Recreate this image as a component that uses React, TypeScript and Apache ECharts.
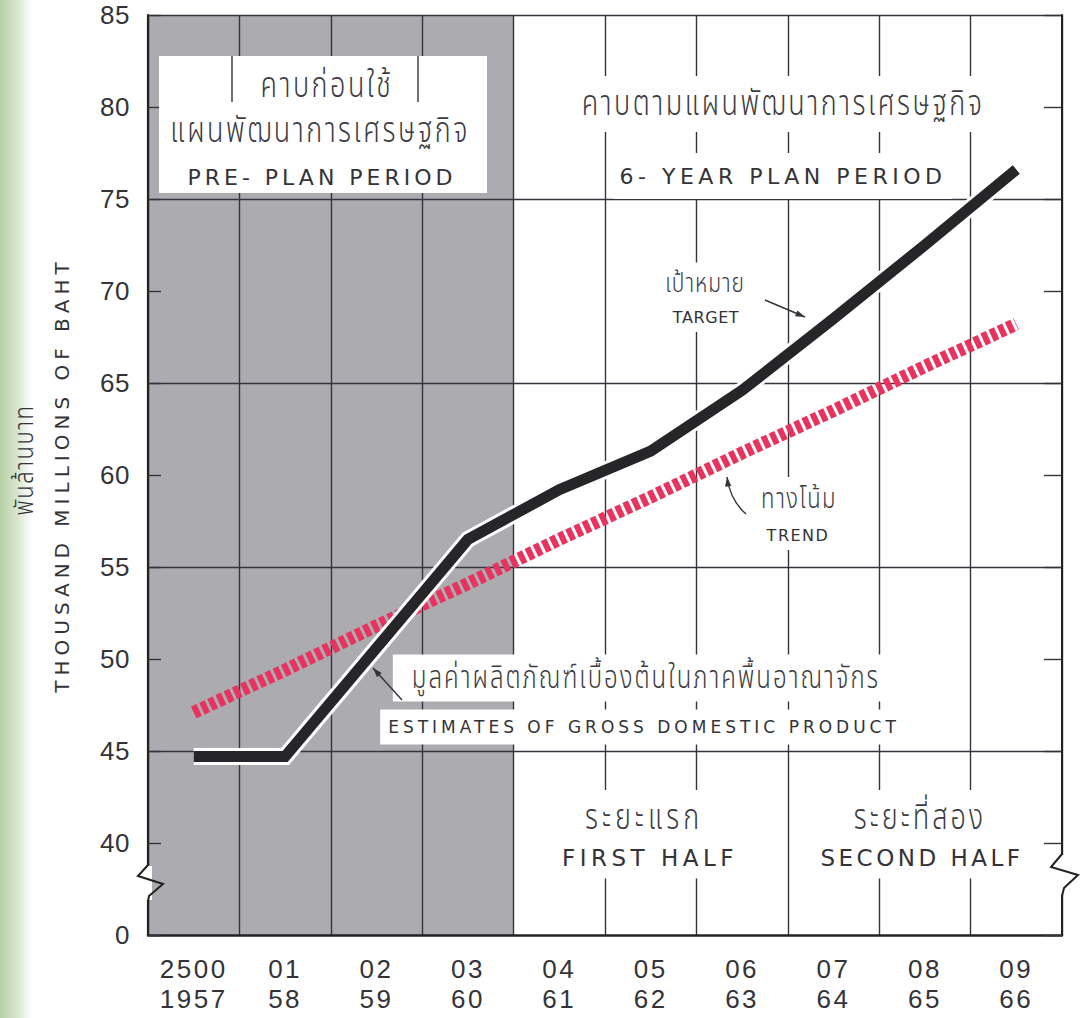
import React, { useEffect, useRef } from "react";
import * as echarts from "echarts";

// ---------- data ----------
const yearLabels = ["2500\n1957", "01\n58", "02\n59", "03\n60", "04\n61", "05\n62", "06\n63", "07\n64", "08\n65", "09\n66"];
const targetGdp = [44.7, 44.7, 50.6, 56.5, 59.2, 61.3, 64.6, 68.5, 72.5, 76.6];
const trendGdp = [47.1, 49.4, 51.8, 54.1, 56.5, 58.8, 61.2, 63.5, 65.9, 68.2];
const majorGridValues = [45, 55, 65, 75, 85];
const yMin = 35; // shown as "0" (broken axis)
const yMax = 85;
const yStep = 5;
const prePlanBand = [0, 4]; // band boundaries of the pre-plan period

// ---------- fonts ----------
const LATIN = "'DejaVu Sans'";
const DIGITS = "'Liberation Sans', Arimo";
const THAI = "'Noto Sans Thai', 'Noto Sans Thai Looped', 'Tlwg Typo', 'Loma', 'Garuda', 'Norasi', 'Waree'";
const SPACINGS = [0, 0.6, 1, 1.5, 2, 2.5, 3, 3.5, 4, 4.5, 5];
const tag = (ls: number) => `zzls${Math.round(ls * 10)}x`;
const fam = (base: string, ls: number) => `${base}, ${tag(ls)}, sans-serif`;
const css = SPACINGS.map((v) => `svg text[style*="${tag(v)}"] { letter-spacing: ${v}px; }`).join("\n");

const INK = "#333338";
const GRIDC = "#34343f";

function arrow(x1: number, y1: number, x2: number, y2: number, head = 10) {
  const a = Math.atan2(y2 - y1, x2 - x1);
  const p1 = [x2 - head * Math.cos(a - 0.32), y2 - head * Math.sin(a - 0.32)];
  const p2 = [x2 - head * Math.cos(a + 0.32), y2 - head * Math.sin(a + 0.32)];
  return [
    { type: "line", z: 30, shape: { x1, y1, x2, y2 }, style: { stroke: INK, lineWidth: 1.4 } },
    { type: "polygon", z: 30, shape: { points: [[x2, y2], p1, p2] }, style: { fill: INK } },
  ];
}

function label(text: string, x: number, y: number, size: number, base: string, ls: number, bg: number[] | null, sy = 1) {
  const isThai = base === THAI;
  const style: any = {
    text,
    fill: isThai ? "#3c3c42" : INK,
    fontSize: size,
    fontFamily: fam(base, ls),
    fontWeight: isThai ? 300 : "normal",
    align: "center",
    verticalAlign: "middle",
  };
  if (bg) {
    const extra = (Array.from(text).length * ls) / 2;
    style.backgroundColor = "#ffffff";
    style.padding = [bg[0], bg[1] + extra, bg[0], bg[1] + extra];
  }
  return { type: "text", z: 20, x, y, scaleY: sy, style };
}

export default function App() {
  const ref = useRef<HTMLDivElement>(null);

  useEffect(() => {
    if (!ref.current) return;
    const chart = echarts.init(ref.current, null, { renderer: "svg", width: 1084, height: 1018 });

    const TY = 1.3; // Thai glyphs in the original are tall

    // trend arrow (curved)
    const tb = { x1: 746, y1: 514, cpx1: 730, cpy1: 500, x2: 727, y2: 477 };
    const ta = Math.atan2(tb.y2 - tb.cpy1, tb.x2 - tb.cpx1);
    const th = 10;

    const graphic: any[] = [
      // left page edge tint
      {
        type: "rect", z: -10, shape: { x: 0, y: 0, width: 32, height: 1018 },
        style: {
          fill: new echarts.graphic.LinearGradient(0, 0, 1, 0, [
            { offset: 0, color: "#b7d0a6" },
            { offset: 0.55, color: "#d9e6cf" },
            { offset: 1, color: "#ffffff" },
          ]),
        },
      },
      // Thai axis title
      {
        type: "text", z: 20, x: 25, y: 460, rotation: Math.PI / 2, scaleY: 1.2,
        style: { text: "พันล้านบาท", fill: INK, fontSize: 22, fontWeight: 300, fontFamily: fam(THAI, 1.5), align: "center", verticalAlign: "middle" },
      },
      // pre-plan box
      { type: "rect", z: 15, shape: { x: 159, y: 56, width: 328, height: 137 }, style: { fill: "#ffffff" } },
      { type: "line", z: 16, shape: { x1: 232, y1: 56, x2: 232, y2: 102 }, style: { stroke: GRIDC, lineWidth: 1.4 } },
      { type: "line", z: 16, shape: { x1: 418, y1: 56, x2: 418, y2: 102 }, style: { stroke: GRIDC, lineWidth: 1.4 } },
      label("คาบก่อนใช้", 327, 86, 27, THAI, 2.5, [2, 4], TY),
      label("แผนพัฒนาการเศรษฐกิจ", 320, 131, 27, THAI, 2.5, null, TY),
      label("PRE- PLAN PERIOD", 322, 177, 22, LATIN, 4, null),
      // plan period heading
      label("คาบตามแผนพัฒนาการเศรษฐกิจ", 783, 104, 27, THAI, 2.5, [8, 8], TY),
      label("6- YEAR PLAN PERIOD", 783, 176, 22, LATIN, 4.5, [12, 6]),
      // target label
      label("เป้าหมาย", 705, 284, 21, THAI, 1, [6, 8], TY),
      label("TARGET", 706, 317, 16, LATIN, 0.6, [7, 8]),
      ...arrow(765, 300, 805, 317),
      // trend label
      label("ทางโน้ม", 799, 499, 22, THAI, 1.5, [6, 8], TY),
      label("TREND", 798, 535, 16, LATIN, 1.5, [7, 8]),
      { type: "bezierCurve", z: 30, shape: tb, style: { stroke: INK, lineWidth: 1.4, fill: null } },
      {
        type: "polygon", z: 30,
        shape: {
          points: [
            [tb.x2, tb.y2],
            [tb.x2 - th * Math.cos(ta - 0.32), tb.y2 - th * Math.sin(ta - 0.32)],
            [tb.x2 - th * Math.cos(ta + 0.32), tb.y2 - th * Math.sin(ta + 0.32)],
          ],
        },
        style: { fill: INK },
      },
      // GDP label
      label("มูลค่าผลิตภัณฑ์เบื้องต้นในภาคพื้นอาณาจักร", 646, 678, 24, THAI, 2, [6, 8], TY),
      label("ESTIMATES OF GROSS DOMESTIC PRODUCT", 644, 727, 17, LATIN, 4, [9, 8]),
      ...arrow(402, 700, 373, 668),
      // halves
      label("ระยะแรก", 644, 818, 27, THAI, 4, [8, 8], TY),
      label("FIRST HALF", 650, 858, 23, LATIN, 4.5, [9, 8]),
      label("ระยะที่สอง", 920, 818, 27, THAI, 3, [8, 8], TY),
      label("SECOND HALF", 922, 858, 23, LATIN, 3.5, [9, 8]),
      // axis breaks
      { type: "rect", z: 25, shape: { x: 143, y: 866, width: 9, height: 34 }, style: { fill: "#ffffff" } },
      { type: "polyline", z: 26, shape: { points: [[148, 865], [138, 876], [163, 884], [149, 896], [148, 901]] }, style: { stroke: "#222", lineWidth: 2, fill: null } },
      { type: "rect", z: 25, shape: { x: 1057, y: 855, width: 9, height: 40 }, style: { fill: "#ffffff" } },
      { type: "polyline", z: 26, shape: { points: [[1062, 854], [1051, 867], [1078, 875], [1064, 888], [1062, 896]] }, style: { stroke: "#222", lineWidth: 2, fill: null } },
    ];

    chart.setOption({
      animation: false,
      backgroundColor: "#ffffff",
      grid: { left: 148, right: 22, top: 15, bottom: 83 },
      xAxis: [
        {
          type: "category",
          z: 2,
          data: yearLabels,
          boundaryGap: true,
          axisLine: { show: true, lineStyle: { color: "#222", width: 2.5 } },
          axisTick: { show: false },
          splitLine: { show: true, interval: 0, lineStyle: { color: GRIDC, width: 1.4 } },
          axisLabel: {
            interval: 0, margin: 19, fontSize: 26, lineHeight: 30, color: INK,
            fontFamily: fam(DIGITS, 2.5),
          },
        },
        { type: "value", min: 0, max: yearLabels.length, show: false },
      ],
      yAxis: [
        {
          type: "value", z: 2, min: yMin, max: yMax, interval: yStep, position: "left",
          name: "THOUSAND MILLIONS OF BAHT", nameLocation: "middle", nameGap: 76, nameRotate: 90,
          nameTextStyle: { fontSize: 20, color: INK, fontFamily: fam(LATIN, 5) },
          axisLine: { show: true, lineStyle: { color: "#222", width: 2.2 } },
          axisTick: { show: true, inside: true, length: 13, lineStyle: { color: GRIDC, width: 1.4 } },
          splitLine: { show: false },
          axisLabel: {
            margin: 18, fontSize: 26, color: INK, fontFamily: fam(DIGITS, 0.6),
            formatter: (v: number) => (v === yMin ? "0" : String(v)),
          },
        },
        {
          type: "value", z: 2, min: yMin, max: yMax, interval: yStep, position: "right",
          axisLine: { show: true, lineStyle: { color: "#222", width: 2 } },
          axisTick: { show: true, inside: true, length: 18, lineStyle: { color: GRIDC, width: 1.4 } },
          axisLabel: { show: false },
          splitLine: { show: false },
        },
      ],
      series: [
        {
          name: "shade", type: "line", xAxisIndex: 1, yAxisIndex: 0, z: 1,
          data: [[0, yMin]], showSymbol: false, lineStyle: { opacity: 0 }, silent: true,
          markArea: {
            z: 1,
            silent: true,
            itemStyle: { color: "#acabb0" },
            data: [[{ xAxis: prePlanBand[0] }, { xAxis: prePlanBand[1] }]],
          },
        },
        {
          name: "grid", type: "line", xAxisIndex: 1, yAxisIndex: 0, z: 2,
          data: [[0, yMin]], showSymbol: false, lineStyle: { opacity: 0 }, silent: true,
          markLine: {
            z: 2,
            silent: true, symbol: "none", label: { show: false },
            lineStyle: { color: GRIDC, width: 1.4, type: "solid" },
            data: majorGridValues.map((v) => ({ yAxis: v })),
          },
        },
        {
          name: "trend", type: "line", data: trendGdp, z: 3, showSymbol: false, silent: true,
          lineStyle: { color: "#e8335e", width: 13, type: [6, 3], cap: "butt" },
        },
        {
          name: "targetHalo", type: "line", data: targetGdp, z: 4, showSymbol: false, silent: true,
          lineStyle: { color: "#ffffff", width: 17, join: "miter" },
        },
        {
          name: "target", type: "line", data: targetGdp, z: 5, showSymbol: false, silent: true,
          lineStyle: { color: "#262629", width: 11, join: "miter" },
        },
      ],
      graphic,
    });

    return () => chart.dispose();
  }, []);

  return (
    <>
      <style>{css}</style>
      <div ref={ref} style={{ position: "absolute", left: 0, top: 0, width: 1084, height: 1018 }} />
    </>
  );
}
